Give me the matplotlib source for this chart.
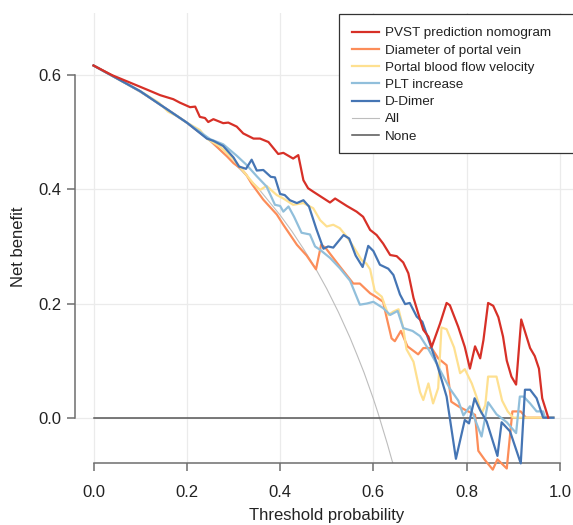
import matplotlib
matplotlib.use("Agg")
import matplotlib.pyplot as plt
from matplotlib.patches import Rectangle

plt.rcParams['font.family'] = ['Liberation Sans', 'DejaVu Sans']

# ---------------- data ----------------
labels = ["PVST prediction nomogram", "Diameter of portal vein",
          "Portal blood flow velocity", "PLT increase", "D-Dimer", "All", "None"]
colors = ["#D73027", "#FC8D59", "#FEE090", "#91BFDB", "#4575B4", "#BDBDBD", "#555555"]

red_x = [0, 0.04, 0.114, 0.143, 0.171, 0.185, 0.207, 0.218, 0.228, 0.239, 0.246, 0.257,
         0.278, 0.289, 0.307, 0.321, 0.343, 0.357, 0.375, 0.396, 0.407, 0.428, 0.439,
         0.45, 0.46, 0.471, 0.507, 0.518, 0.543, 0.564, 0.578, 0.593, 0.607, 0.621,
         0.636, 0.65, 0.664, 0.675, 0.686, 0.696, 0.707, 0.718, 0.725, 0.743, 0.757,
         0.764, 0.782, 0.796, 0.807, 0.818, 0.829, 0.836, 0.846, 0.857, 0.868, 0.878,
         0.886, 0.896, 0.906, 0.917, 0.936, 0.946, 0.955, 0.962, 0.975]
red_y = [0.617, 0.600, 0.575, 0.565, 0.558, 0.552, 0.544, 0.545, 0.527, 0.525, 0.518, 0.523,
         0.516, 0.517, 0.510, 0.498, 0.489, 0.489, 0.483, 0.462, 0.464, 0.454, 0.460,
         0.416, 0.402, 0.396, 0.377, 0.384, 0.371, 0.361, 0.352, 0.329, 0.320, 0.305,
         0.285, 0.283, 0.272, 0.253, 0.210, 0.183, 0.154, 0.142, 0.124, 0.165, 0.201,
         0.197, 0.159, 0.124, 0.086, 0.125, 0.104, 0.136, 0.201, 0.196, 0.176, 0.142,
         0.100, 0.072, 0.058, 0.172, 0.122, 0.108, 0.086, 0.034, 0.0]

orange_x = [0, 0.1, 0.2, 0.25, 0.286, 0.3, 0.318, 0.328, 0.339, 0.364, 0.393, 0.407, 0.436,
            0.457, 0.477, 0.488, 0.497, 0.528, 0.557, 0.571, 0.593, 0.607, 0.621, 0.628,
            0.639, 0.646, 0.659, 0.673, 0.696, 0.707, 0.725, 0.739, 0.757, 0.767, 0.784,
            0.818, 0.825, 0.839, 0.856, 0.866, 0.886, 0.898, 0.916, 0.927, 0.986]
orange_y = [0.617, 0.572, 0.517, 0.486, 0.458, 0.446, 0.435, 0.425, 0.410, 0.382, 0.356, 0.338,
            0.303, 0.284, 0.260, 0.303, 0.298, 0.265, 0.235, 0.235, 0.218, 0.211, 0.203, 0.177,
            0.139, 0.134, 0.152, 0.125, 0.111, 0.122, 0.122, 0.104, 0.092, 0.028, 0.019,
            0.005, -0.058, -0.074, -0.091, -0.073, -0.089, 0.011, 0.011, 0.0, 0.0]

yellow_x = [0, 0.1, 0.14, 0.16, 0.18, 0.2, 0.228, 0.243, 0.271, 0.3, 0.343, 0.357, 0.371,
            0.393, 0.407, 0.428, 0.45, 0.471, 0.486, 0.5, 0.514, 0.528, 0.543, 0.557, 0.575,
            0.585, 0.593, 0.603, 0.618, 0.632, 0.643, 0.654, 0.664, 0.671, 0.686, 0.7, 0.707,
            0.718, 0.728, 0.739, 0.746, 0.757, 0.773, 0.786, 0.796, 0.811, 0.821, 0.832,
            0.84, 0.846, 0.864, 0.876, 0.888, 0.9, 0.986]
yellow_y = [0.617, 0.572, 0.552, 0.536, 0.528, 0.517, 0.504, 0.489, 0.475, 0.453, 0.410, 0.399,
            0.406, 0.390, 0.384, 0.373, 0.376, 0.367, 0.346, 0.335, 0.338, 0.332, 0.317, 0.300,
            0.276, 0.270, 0.260, 0.222, 0.212, 0.180, 0.186, 0.190, 0.157, 0.120, 0.098, 0.045,
            0.031, 0.060, 0.025, 0.052, 0.158, 0.155, 0.123, 0.078, 0.085, 0.060, 0.037, 0.007,
            0.022, 0.072, 0.072, 0.030, 0.011, 0.0, 0.0]

ltblue_x = [0, 0.1, 0.2, 0.25, 0.278, 0.307, 0.328, 0.35, 0.371, 0.389, 0.4, 0.407, 0.418,
            0.43, 0.446, 0.464, 0.475, 0.486, 0.507, 0.528, 0.55, 0.564, 0.571, 0.586, 0.6,
            0.621, 0.636, 0.652, 0.664, 0.684, 0.7, 0.718, 0.736, 0.764, 0.782, 0.793, 0.807,
            0.832, 0.846, 0.864, 0.886, 0.906, 0.914, 0.922, 0.936, 0.95, 0.964, 0.968, 0.986]
ltblue_y = [0.617, 0.572, 0.517, 0.488, 0.479, 0.459, 0.443, 0.423, 0.405, 0.373, 0.371, 0.361,
            0.370, 0.352, 0.324, 0.321, 0.300, 0.294, 0.280, 0.262, 0.240, 0.212, 0.198, 0.200,
            0.203, 0.192, 0.180, 0.187, 0.157, 0.152, 0.143, 0.120, 0.094, 0.051, 0.030, 0.004,
            0.020, -0.033, 0.027, 0.006, -0.008, -0.027, 0.037, 0.037, 0.025, 0.011, 0.011,
            0.0, 0.0]

blue_x = [0, 0.1, 0.2, 0.243, 0.257, 0.278, 0.3, 0.312, 0.327, 0.339, 0.35, 0.364, 0.38,
          0.389, 0.4, 0.41, 0.421, 0.436, 0.45, 0.462, 0.478, 0.493, 0.503, 0.514, 0.536,
          0.548, 0.562, 0.577, 0.589, 0.6, 0.614, 0.632, 0.643, 0.657, 0.668, 0.678, 0.693,
          0.705, 0.736, 0.757, 0.777, 0.796, 0.805, 0.817, 0.829, 0.843, 0.866, 0.875, 0.893,
          0.916, 0.925, 0.936, 0.95, 0.964, 0.986]
blue_y = [0.617, 0.572, 0.517, 0.489, 0.485, 0.476, 0.456, 0.440, 0.436, 0.452, 0.433, 0.434,
          0.422, 0.421, 0.392, 0.390, 0.381, 0.376, 0.381, 0.370, 0.330, 0.296, 0.300, 0.298,
          0.320, 0.314, 0.284, 0.264, 0.301, 0.292, 0.268, 0.261, 0.250, 0.216, 0.199, 0.201,
          0.177, 0.168, 0.095, 0.037, -0.072, -0.004, -0.010, 0.034, 0.013, -0.007, -0.067,
          -0.008, -0.024, -0.080, 0.049, 0.049, 0.034, 0.0, 0.0]

all_x = [0, 0.05, 0.1, 0.15, 0.2, 0.25, 0.3, 0.35, 0.4, 0.425, 0.45, 0.475, 0.5, 0.525,
         0.55, 0.565, 0.58, 0.59, 0.6, 0.61, 0.62, 0.63, 0.64, 0.642]
all_y = [0.617, 0.594, 0.570, 0.545, 0.516, 0.484, 0.447, 0.405, 0.355, 0.327, 0.296, 0.263,
         0.226, 0.185, 0.140, 0.110, 0.079, 0.056, 0.033, 0.008, -0.019, -0.046, -0.075, -0.080]

none_x = [0, 0.986]
none_y = [0.0, 0.0]

x_ticks = [0.0, 0.2, 0.4, 0.6, 0.8, 1.0]
y_ticks = [0.0, 0.2, 0.4, 0.6]
x_label = "Threshold probability"
y_label = "Net benefit"

# ---------------- figure ----------------
W, H = 573, 525
fig = plt.figure(figsize=(W / 100, H / 100), dpi=100)
ax_l, ax_r, ax_t, ax_b = 75, 573, 13, 463.3
ax = fig.add_axes([ax_l / W, 1 - ax_b / H, (ax_r - ax_l) / W, (ax_b - ax_t) / H])

xmin, xmax = -0.0397, 1.028
ymin, ymax = -0.0799, 0.709
ax.set_xlim(xmin, xmax)
ax.set_ylim(ymin, ymax)

for v in x_ticks:
    ax.axvline(v, color="#EBEBEB", lw=0.9, zorder=0)
for v in y_ticks:
    ax.axhline(v, color="#EBEBEB", lw=0.9, zorder=0)

series = [(red_x, red_y), (orange_x, orange_y), (yellow_x, yellow_y),
          (ltblue_x, ltblue_y), (blue_x, blue_y)]
handles = []
for (xs, ys), c, lab in zip(series, colors[:5], labels[:5]):
    h, = ax.plot(xs, ys, color=c, lw=1.6, clip_on=False, label=lab, zorder=3)
    handles.append(h)
h_all, = ax.plot(all_x, all_y, color=colors[5], lw=0.8, label=labels[5], zorder=2)
h_none, = ax.plot(none_x, none_y, color=colors[6], lw=1.1, label=labels[6], zorder=2.5)
handles += [h_all, h_none]
handles[0].set_zorder(4)

for s in ["top", "right"]:
    ax.spines[s].set_visible(False)
ax.spines["left"].set_bounds(0, 0.6)
ax.spines["bottom"].set_bounds(0, 1.0)
for s in ["left", "bottom"]:
    ax.spines[s].set_color("#6E6E6E")
    ax.spines[s].set_linewidth(1.1)

ax.set_xticks(x_ticks)
ax.set_yticks(y_ticks)
ax.set_xticklabels([f"{v:.1f}" for v in x_ticks])
ax.set_yticklabels([f"{v:.1f}" for v in y_ticks])
ax.tick_params(direction="out", length=5.8, width=1.1, color="#6E6E6E",
               labelsize=12, labelcolor="#222222")
ax.tick_params(axis="y", pad=4)
ax.tick_params(axis="x", pad=10)

ax.set_xlabel(x_label, fontsize=12, color="#222222")
ax.set_ylabel(y_label, fontsize=12, color="#222222")
ax.xaxis.set_label_coords((0.5 - xmin) / (xmax - xmin), -0.1)
ax.yaxis.set_label_coords(-0.098, (0.3 - ymin) / (ymax - ymin))

# legend box (extends past the right edge as in the reference)
fig.patches.append(Rectangle((339 / W, 1 - 153 / H), (600 - 339) / W, (153 - 14) / H,
                             transform=fig.transFigure, fill=True, facecolor="white",
                             edgecolor="#333333", lw=0.9, zorder=5))
leg = fig.legend(handles=handles, labels=labels, loc="upper left",
                 bbox_to_anchor=(352 / W, 1 - 27 / H), bbox_transform=fig.transFigure,
                 frameon=False, fontsize=9.7, borderpad=0, borderaxespad=0,
                 handlelength=2.0, handletextpad=0.44, labelspacing=0.355)
leg.set_zorder(6)
for t in leg.get_texts():
    t.set_color("#222222")

fig.savefig("out.png", dpi=100)
